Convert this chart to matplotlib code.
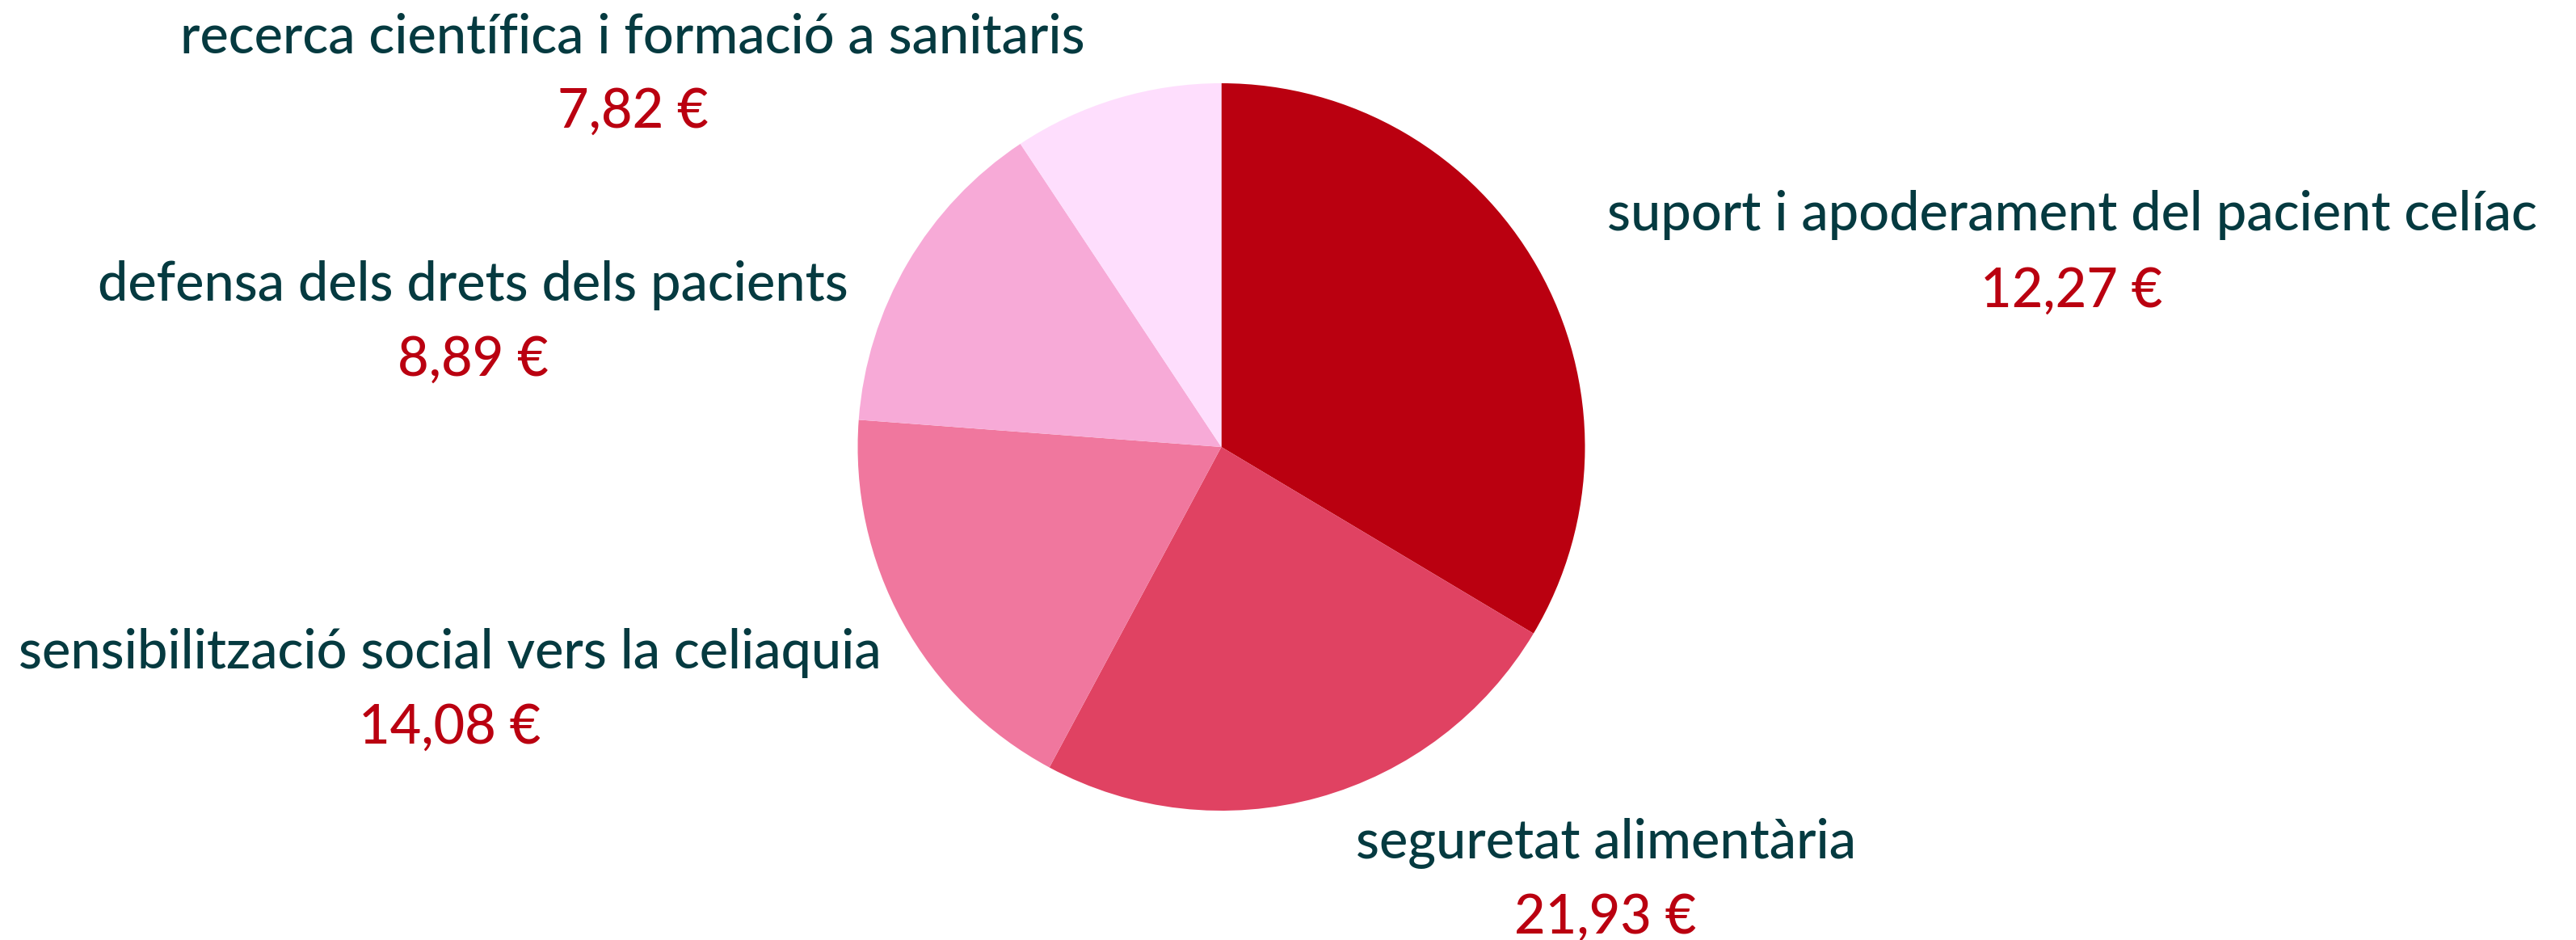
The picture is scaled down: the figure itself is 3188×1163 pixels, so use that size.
import matplotlib
matplotlib.use('Agg')
from matplotlib import pyplot as plt

# data
categories = ['suport i apoderament del pacient celíac',
              'seguretat alimentària',
              'sensibilització social vers la celiaquia',
              'defensa dels drets dels pacients',
              'recerca científica i formació a sanitaris']
amounts = ['12,27 €', '21,93 €', '14,08 €', '8,89 €', '7,82 €']
shares = [33.57, 24.27, 18.35, 14.49, 9.32]

colors = ['#BA0010', '#E04262', '#F0779E', '#F7AAD7', '#FEDEFD']
dark = '#053A40'
red = '#BA0010'

W, H = 3188, 1163
fig = plt.figure(figsize=(W / 100, H / 100), dpi=100)
fig.patch.set_facecolor('white')

# pie: centre (1511, 553) px, radius 450 px
cx, cy, r = 1511.5, 553, 450
ax = fig.add_axes([(cx - r) / W, (H - cy - r) / H, 2 * r / W, 2 * r / H])
ax.pie(shares, colors=colors, startangle=90, counterclock=False,
       radius=1, wedgeprops={'linewidth': 0})
ax.set_xlim(-1, 1)
ax.set_ylim(-1, 1)
ax.set_aspect('equal')
ax.axis('off')

# label anchors in px: (x centre, baseline of category, baseline of amount)
label_pos = [(2564, 285, 380),
             (1987, 1062, 1155),
             (557, 827, 920),
             (585, 372, 465),
             (783, 65, 158)]

fs = 48
font = 'Lato'
for name, amt, (x, yb1, yb2) in zip(categories, amounts, label_pos):
    fig.text(x / W, 1 - yb1 / H, name, ha='center', va='baseline',
             fontsize=fs, color=dark, family=font, fontweight='medium')
    fig.text(x / W, 1 - yb2 / H, amt, ha='center', va='baseline',
             fontsize=fs, color=red, family=font, fontweight='medium')

fig.savefig('out.png', dpi=100)
